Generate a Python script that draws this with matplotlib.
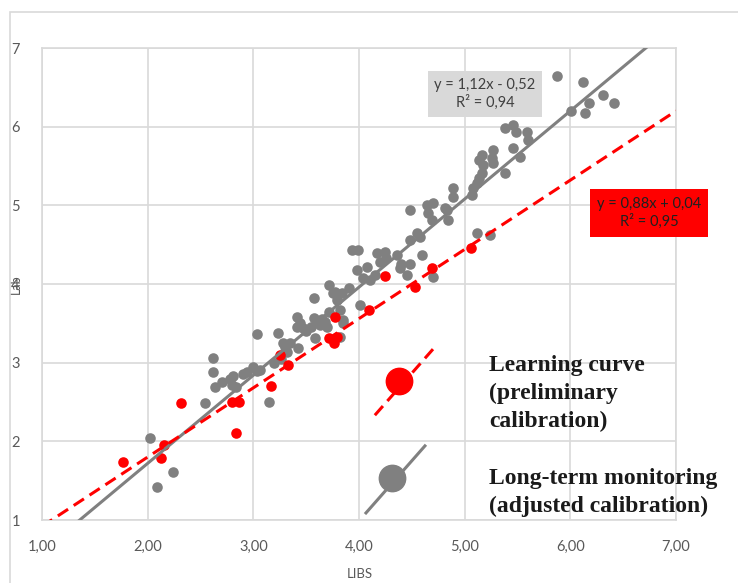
import numpy as np
import matplotlib.pyplot as plt
from matplotlib.patches import Rectangle
from matplotlib.lines import Line2D

# ── Data ──────────────────────────────────────────────────────────────────────

# long-term monitoring (adjusted calibration) – grey
libs_grey = [2.02, 2.09, 2.24, 2.54, 2.62, 2.62, 2.64, 2.78, 2.81, 2.84, 2.80,
             2.94, 3.00, 3.03, 3.06, 3.03, 3.15, 3.23, 3.28, 3.32, 3.26, 3.20,
             3.42, 3.41, 3.44, 3.47, 3.41, 3.57, 3.57, 3.58, 3.63, 3.68, 3.72,
             3.82, 3.82, 3.85, 3.85, 4.01, 3.75, 3.79, 3.72, 3.77, 3.84, 3.91,
             3.93, 3.99, 3.98, 4.08, 4.17, 4.25, 4.20, 4.26, 4.36, 4.40, 4.48,
             4.39, 4.45, 4.04, 4.10, 4.15, 4.70, 4.48, 4.64, 4.65, 4.69, 4.70,
             4.83, 4.84, 4.55, 4.58, 4.60, 4.48, 4.89, 4.89, 4.81, 5.07, 5.08,
             5.12, 5.14, 5.16, 5.38, 5.17, 5.27, 5.14, 5.16, 5.26, 5.27, 5.52,
             5.46, 5.60, 5.59, 5.49, 5.46, 5.38, 6.01, 6.14, 6.18, 6.41, 6.31,
             6.12, 5.87, 5.12, 5.24, 3.30, 3.50, 3.55, 3.65, 3.70, 2.70, 2.90,
             3.35]
lab_grey = [2.04, 1.42, 1.61, 2.49, 3.06, 2.88, 2.69, 2.79, 2.83, 2.69, 2.72,
            2.88, 2.94, 2.90, 2.91, 3.36, 2.50, 3.38, 3.25, 3.13, 3.05, 2.99,
            3.19, 3.58, 3.50, 3.44, 3.45, 3.82, 3.57, 3.31, 3.48, 3.52, 3.64,
            3.67, 3.33, 3.51, 3.54, 3.73, 3.88, 3.80, 3.99, 3.90, 3.88, 3.95,
            4.43, 4.43, 4.18, 4.21, 4.39, 4.41, 4.28, 4.33, 4.37, 4.26, 4.26,
            4.20, 4.11, 4.07, 4.05, 4.11, 4.09, 4.94, 5.00, 4.90, 4.81, 5.03,
            4.94, 4.81, 4.65, 4.60, 4.37, 4.56, 5.22, 5.10, 4.96, 5.13, 5.22,
            5.28, 5.35, 5.41, 5.41, 5.51, 5.54, 5.57, 5.64, 5.60, 5.70, 5.61,
            5.73, 5.83, 5.93, 5.93, 6.02, 5.98, 6.20, 6.18, 6.30, 6.30, 6.40,
            6.57, 6.65, 4.65, 4.62, 3.20, 3.40, 3.45, 3.55, 3.45, 2.75, 2.85,
            3.25]

# learning curve (preliminary calibration) – red
libs_red = [1.77, 2.13, 2.15, 2.32, 2.80, 2.86, 2.84, 3.17, 3.25, 3.33, 3.72,
            3.76, 3.79, 3.77, 4.09, 4.25, 4.53, 4.69, 5.06]
lab_red = [1.74, 1.79, 1.95, 2.49, 2.50, 2.50, 2.11, 2.70, 3.10, 2.97, 3.31,
           3.25, 3.33, 3.58, 3.67, 4.10, 3.96, 4.20, 4.46]

# trendlines as printed on the chart
fit_grey = (1.12, -0.52)
fit_red = (0.88, 0.04)
x_ticks = [1, 2, 3, 4, 5, 6, 7]
y_ticks = [1, 2, 3, 4, 5, 6, 7]

GREY = '#808080'
RED = '#ff0000'
TXT = '#595959'
GRID = '#d9d9d9'

# ── Plot ──────────────────────────────────────────────────────────────────────

fig = plt.figure(figsize=(7.38, 5.83), dpi=100)
ax = fig.add_axes([42 / 738, 63 / 583, 634 / 738, 472 / 583])

# outer chart border
fig.patches.append(Rectangle((10 / 738, -0.1), 1.2, 0.1 + 571 / 583,
                             transform=fig.transFigure, fill=False,
                             edgecolor=GRID, lw=1.2))

ax.scatter(libs_grey, lab_grey, s=58, color=GREY, lw=0, zorder=3)
ax.scatter(libs_red, lab_red, s=58, color=RED, lw=0, zorder=4)

xx = np.array([1, 7])
ax.plot(xx, fit_grey[0] * xx + fit_grey[1], color=GREY, lw=2.2, zorder=5)
ax.plot(xx, fit_red[0] * xx + fit_red[1], color=RED, lw=2.2,
        dashes=(4, 2.2), zorder=5)

ax.set_xlim(1, 7)
ax.set_ylim(1, 7)
ax.set_xticks(x_ticks)
ax.set_yticks(y_ticks)
ax.set_xticklabels([f'{v:.2f}'.replace('.', ',') for v in x_ticks])
ax.set_yticklabels([str(v) for v in y_ticks])
ax.tick_params(length=0, labelsize=10.5, labelcolor=TXT)
ax.tick_params(axis='x', pad=14)
ax.tick_params(axis='y', pad=16)
for lab in ax.get_xticklabels() + ax.get_yticklabels():
    lab.set_family('Lato')
ax.grid(color=GRID, lw=1.2, zorder=0)
ax.set_axisbelow(True)
for sp in ax.spines.values():
    sp.set_color(GRID)
    sp.set_linewidth(1.2)

ax.set_xlabel('LIBS', fontsize=9.5, color=TXT, family='Lato')
ax.xaxis.set_label_coords(0.501, -0.102)
ax.set_ylabel('Lab', fontsize=9, color=TXT, family='Lato')
ax.yaxis.set_label_coords(-0.032, 0.5)

# equation boxes
ax.text(485 / 738, 1 - 94 / 583, 'y = 1,12x - 0,52\nR² = 0,94',
        transform=fig.transFigure, ha='center', va='center', fontsize=10.5,
        family='Lato', color='#404040', linespacing=1.3, zorder=6,
        bbox=dict(boxstyle='square,pad=0.45', fc=GRID, ec='none'))
ax.text(649 / 738, 1 - 213 / 583, 'y = 0,88x + 0,04\nR² = 0,95',
        transform=fig.transFigure, ha='center', va='center', fontsize=10.5,
        family='Lato', color='#202020', linespacing=1.3, zorder=6,
        bbox=dict(boxstyle='square,pad=0.5', fc=RED, ec='none'))

# hand-drawn legend inside the plot
ax.add_line(Line2D([0.525, 0.620], [0.222, 0.367], transform=ax.transAxes,
                   color=RED, lw=2.2, dashes=(4, 2.2), zorder=6))
ax.plot([0.563], [0.294], 'o', ms=19, color=RED, transform=ax.transAxes,
        zorder=7, clip_on=False)
ax.add_line(Line2D([0.511, 0.604], [0.015, 0.157], transform=ax.transAxes,
                   color=GREY, lw=2.2, zorder=6))
ax.plot([0.552], [0.089], 'o', ms=19, color=GREY, transform=ax.transAxes,
        zorder=7, clip_on=False)

ax.text(0.705, 0.35, 'Learning curve\n(preliminary\ncalibration)',
        transform=ax.transAxes, ha='left', va='top', fontsize=17,
        family='Liberation Serif', weight='bold', color='#1a1a1a',
        linespacing=1.42, clip_on=False, zorder=8)
ax.text(0.705, 0.11, 'Long-term monitoring\n(adjusted calibration)',
        transform=ax.transAxes, ha='left', va='top', fontsize=17,
        family='Liberation Serif', weight='bold', color='#1a1a1a',
        linespacing=1.42, clip_on=False, zorder=8)

fig.savefig('out.png', dpi=100)
